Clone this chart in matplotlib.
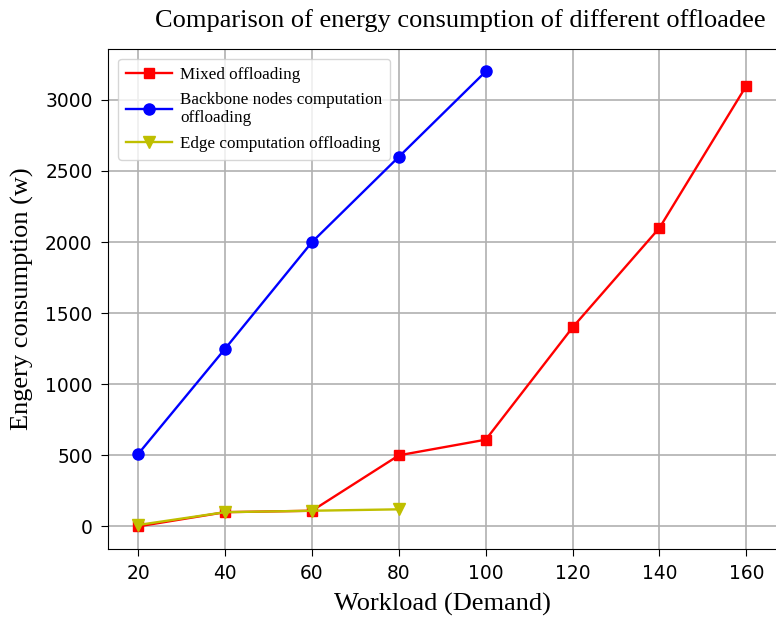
import matplotlib.pyplot as plt

# Workload values and energy consumption per offloading strategy
workload_mixed = [20, 40, 60, 80, 100, 120, 140, 160]
energy_mixed = [0, 100, 110, 500, 610, 1400, 2100, 3100]

workload_backbone = [20, 40, 60, 80, 100]
energy_backbone = [510, 1250, 2000, 2600, 3200]

workload_edge = [20, 40, 60, 80]
energy_edge = [10, 100, 110, 120]

serif = 'Liberation Serif'

fig = plt.figure(figsize=(7.76, 6.17), dpi=100)
ax = fig.add_axes([0.139, 0.110, 0.862, 0.811])

ax.plot(workload_mixed, energy_mixed, 'rs-', markersize=7.5, linewidth=1.7, label='Mixed offloading')
ax.plot(workload_backbone, energy_backbone, 'bo-', markersize=8, linewidth=1.7,
        label='Backbone nodes computation\noffloading')
ax.plot(workload_edge, energy_edge, 'yv-', markersize=8, linewidth=1.7, label='Edge computation offloading')

ax.grid(True, color='#b0b0b0', linewidth=1.2)
ax.set_xticks([20, 40, 60, 80, 100, 120, 140, 160])
ax.tick_params(labelsize=13.4, length=5, pad=6)

ax.set_xlabel('Workload (Demand)', fontsize=19, family=serif, labelpad=7)
ax.set_ylabel('Engery consumption (w)', fontsize=19, family=serif, labelpad=8)
ax.set_title('Comparison of energy consumption of different offloadee', fontsize=19,
             family=serif, x=0.527, pad=16)

leg = ax.legend(loc='upper left', prop={'family': serif, 'size': 12.3}, handlelength=2.7,
                handletextpad=0.5, labelspacing=0.55, borderpad=0.45, borderaxespad=0.6)
leg.get_frame().set_alpha(0.8)

fig.savefig('out.png', dpi=100)
